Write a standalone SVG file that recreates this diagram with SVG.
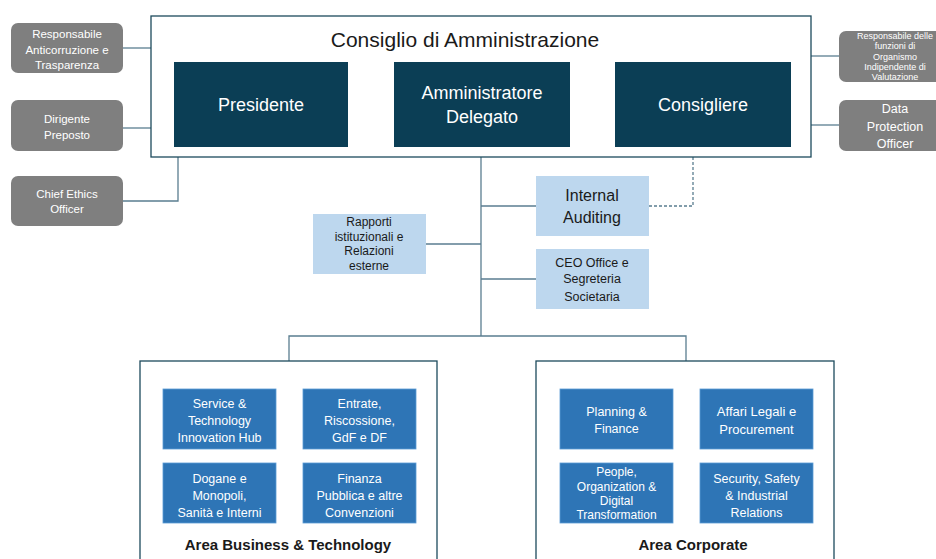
<svg xmlns="http://www.w3.org/2000/svg" width="936" height="559" viewBox="0 0 936 559">
<style>
text{font-family:"Liberation Sans",Arial,sans-serif;text-anchor:middle}
.dark{fill:#0B3E55}
.gray{fill:#7F7F7F}
.lb{fill:#BDD7EE}
.mb{fill:#2E75B6;stroke:#5B9BD5;stroke-width:0.8}
.wt{fill:#FFFFFF}
.bt{fill:#1A1A1A}
.ln{stroke:#5A7D90;stroke-width:1.3;fill:none}
.frame{fill:#FFFFFF;stroke:#1D4A5C;stroke-width:1.3}
.g11{font-size:11.5px}
</style>
<rect width="936" height="559" fill="#FFFFFF"/>
<g id="connectors">
<line class="ln" x1="123" y1="48" x2="151" y2="48"/>
<line class="ln" x1="123" y1="128" x2="151" y2="128"/>
<polyline class="ln" points="123,201 178,201 178,157"/>
<line class="ln" x1="811" y1="56" x2="839" y2="56"/>
<line class="ln" x1="811" y1="125" x2="839" y2="125"/>
<polyline class="ln" points="693,157 693,206 649,206" stroke-dasharray="3,2"/>
<line class="ln" x1="481" y1="147" x2="481" y2="336"/>
<line class="ln" x1="481" y1="206" x2="536" y2="206"/>
<line class="ln" x1="426" y1="244" x2="481" y2="244"/>
<line class="ln" x1="481" y1="279" x2="536" y2="279"/>
<polyline class="ln" points="289,361 289,336 686,336 686,361"/>
</g>
<g id="cda">
<rect class="frame" x="151" y="16" width="660" height="141"/>
<text x="465" y="47" font-size="21" class="bt">Consiglio di Amministrazione</text>
</g>
<g id="presidente">
<rect class="dark" x="174" y="62" width="174" height="85"/>
<text x="261" y="111" font-size="18" class="wt">Presidente</text>
</g>
<g id="ad">
<rect class="dark" x="394" y="62" width="176" height="85"/>
<text x="482" y="99" font-size="18" class="wt">Amministratore</text>
<text x="482" y="123" font-size="18" class="wt">Delegato</text>
</g>
<g id="consigliere">
<rect class="dark" x="615" y="62" width="176" height="85"/>
<text x="703" y="111" font-size="18" class="wt">Consigliere</text>
</g>
<g id="anticorruzione">
<rect class="gray" x="11" y="23" width="112" height="50" rx="7"/>
<text x="67" y="38" class="wt g11">Responsabile</text>
<text x="67" y="54" class="wt g11">Anticorruzione e</text>
<text x="67" y="69" class="wt g11">Trasparenza</text>
</g>
<g id="dirigente">
<rect class="gray" x="11" y="100" width="112" height="51" rx="7"/>
<text x="67" y="123" class="wt g11">Dirigente</text>
<text x="67" y="139" class="wt g11">Preposto</text>
</g>
<g id="ethics">
<rect class="gray" x="11" y="176" width="112" height="50" rx="7"/>
<text x="67" y="198" class="wt g11">Chief Ethics</text>
<text x="67" y="213" class="wt g11">Officer</text>
</g>
<g id="oiv">
<rect class="gray" x="839" y="31" width="110" height="51" rx="7"/>
<text x="895" y="38.5" font-size="9" class="wt">Responsabile delle</text>
<text x="895" y="48.5" font-size="9" class="wt">funzioni di</text>
<text x="895" y="59.5" font-size="9" class="wt">Organismo</text>
<text x="895" y="69.5" font-size="9" class="wt">Indipendente di</text>
<text x="895" y="80" font-size="9" class="wt">Valutazione</text>
</g>
<g id="dpo">
<rect class="gray" x="839" y="100" width="110" height="51" rx="7"/>
<text x="895" y="113" font-size="12.5" class="wt">Data</text>
<text x="895" y="130.5" font-size="12.5" class="wt">Protection</text>
<text x="895" y="147.5" font-size="12.5" class="wt">Officer</text>
</g>
<g id="internal-auditing">
<rect class="lb" x="536" y="176" width="113" height="60"/>
<text x="592" y="201" font-size="16" class="bt">Internal</text>
<text x="592" y="223" font-size="16" class="bt">Auditing</text>
</g>
<g id="ceo-office">
<rect class="lb" x="536" y="249" width="113" height="60"/>
<text x="592" y="266.5" font-size="12.5" class="bt">CEO Office e</text>
<text x="592" y="283" font-size="12.5" class="bt">Segreteria</text>
<text x="592" y="300.5" font-size="12.5" class="bt">Societaria</text>
</g>
<g id="rapporti">
<rect class="lb" x="313" y="214" width="113" height="60"/>
<text x="369" y="226" font-size="12" class="bt">Rapporti</text>
<text x="369" y="240.5" font-size="12" class="bt">istituzionali e</text>
<text x="369" y="255" font-size="12" class="bt">Relazioni</text>
<text x="369" y="269.5" font-size="12" class="bt">esterne</text>
</g>
<g id="area-bt">
<rect class="frame" x="140" y="361" width="297" height="205"/>
<text x="288" y="550" font-size="15" font-weight="bold" class="bt">Area Business &amp; Technology</text>
</g>
<g id="service-tech">
<rect class="mb" x="163" y="389" width="113" height="60"/>
<text x="219.5" y="407.5" font-size="12.5" class="wt">Service &amp;</text>
<text x="219.5" y="424.5" font-size="12.5" class="wt">Technology</text>
<text x="219.5" y="441.5" font-size="12.5" class="wt">Innovation Hub</text>
</g>
<g id="entrate">
<rect class="mb" x="303" y="389" width="113" height="60"/>
<text x="359.5" y="407.5" font-size="12.5" class="wt">Entrate,</text>
<text x="359.5" y="424.5" font-size="12.5" class="wt">Riscossione,</text>
<text x="359.5" y="441.5" font-size="12.5" class="wt">GdF e DF</text>
</g>
<g id="dogane">
<rect class="mb" x="163" y="463" width="113" height="60"/>
<text x="219.5" y="482.5" font-size="12.5" class="wt">Dogane e</text>
<text x="219.5" y="499.5" font-size="12.5" class="wt">Monopoli,</text>
<text x="219.5" y="516.5" font-size="12.5" class="wt">Sanità e Interni</text>
</g>
<g id="finanza">
<rect class="mb" x="303" y="463" width="113" height="60"/>
<text x="359.5" y="482.5" font-size="12.5" class="wt">Finanza</text>
<text x="359.5" y="499.5" font-size="12.5" class="wt">Pubblica e altre</text>
<text x="359.5" y="516.5" font-size="12.5" class="wt">Convenzioni</text>
</g>
<g id="area-corporate">
<rect class="frame" x="536" y="361" width="298" height="205"/>
<text x="693" y="550" font-size="15" font-weight="bold" class="bt">Area Corporate</text>
</g>
<g id="planning">
<rect class="mb" x="560" y="389" width="113" height="60"/>
<text x="616.5" y="416" font-size="12.5" class="wt">Planning &amp;</text>
<text x="616.5" y="433" font-size="12.5" class="wt">Finance</text>
</g>
<g id="affari-legali">
<rect class="mb" x="700" y="389" width="113" height="60"/>
<text x="756.5" y="415.5" font-size="13" class="wt">Affari Legali e</text>
<text x="756.5" y="433.5" font-size="13" class="wt">Procurement</text>
</g>
<g id="people">
<rect class="mb" x="560" y="463" width="113" height="60"/>
<text x="616.5" y="476" font-size="12" class="wt">People,</text>
<text x="616.5" y="490.5" font-size="12" class="wt">Organization &amp;</text>
<text x="616.5" y="504.5" font-size="12" class="wt">Digital</text>
<text x="616.5" y="519" font-size="12" class="wt">Transformation</text>
</g>
<g id="security">
<rect class="mb" x="700" y="463" width="113" height="60"/>
<text x="756.5" y="482.5" font-size="12.5" class="wt">Security, Safety</text>
<text x="756.5" y="499.5" font-size="12.5" class="wt">&amp; Industrial</text>
<text x="756.5" y="516.5" font-size="12.5" class="wt">Relations</text>
</g>
</svg>
